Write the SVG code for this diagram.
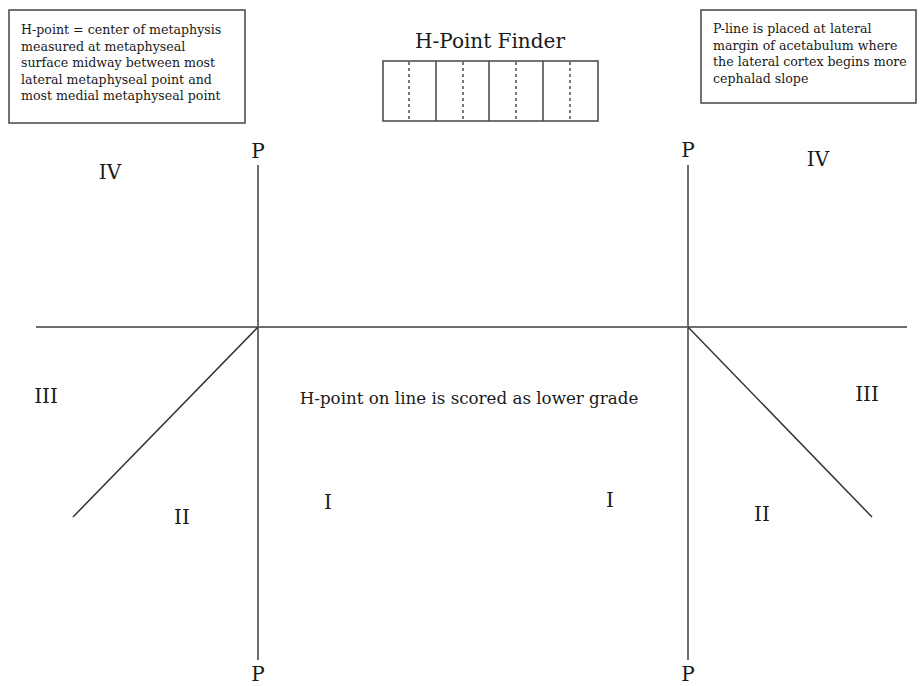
<svg xmlns="http://www.w3.org/2000/svg" width="924" height="686" viewBox="0 0 924 686">
<style>
text{font-family:"DejaVu Serif","Liberation Serif",serif;fill:#1a1a1a}
.note{font-size:12.6px}
.lbl{font-size:20px;text-anchor:middle}
.box{fill:#fff;stroke:#444;stroke-width:1.5}
.axis{stroke:#6e6e6e;stroke-width:2;fill:none}
.diag{stroke:#333;stroke-width:1.5;fill:none}
.dash{stroke:#333;stroke-width:1.3;stroke-dasharray:3,3}
.solid{stroke:#444;stroke-width:1.5}
</style>
<rect width="924" height="686" fill="#fff"/>
<g id="note-hpoint">
<rect class="box" x="9" y="10" width="236" height="113"/>
<text class="note" x="21" y="34">H-point = center of metaphysis</text>
<text class="note" x="21" y="50.5">measured at metaphyseal</text>
<text class="note" x="21" y="67">surface midway between most</text>
<text class="note" x="21" y="83.5">lateral metaphyseal point and</text>
<text class="note" x="21" y="100">most medial metaphyseal point</text>
</g>
<g id="note-pline">
<rect class="box" x="701" y="10" width="215" height="93"/>
<text class="note" x="713" y="33">P-line is placed at lateral</text>
<text class="note" x="713" y="49.5">margin of acetabulum where</text>
<text class="note" x="713" y="66">the lateral cortex begins more</text>
<text class="note" x="713" y="82.5">cephalad slope</text>
</g>
<g id="finder">
<text x="490" y="48" style="font-size:20px;text-anchor:middle">H-Point Finder</text>
<rect class="box" x="383" y="61" width="215" height="60"/>
<line class="solid" x1="436" y1="61" x2="436" y2="121"/>
<line class="solid" x1="489" y1="61" x2="489" y2="121"/>
<line class="solid" x1="543" y1="61" x2="543" y2="121"/>
<line class="dash" x1="409" y1="62" x2="409" y2="120"/>
<line class="dash" x1="463" y1="62" x2="463" y2="120"/>
<line class="dash" x1="516" y1="62" x2="516" y2="120"/>
<line class="dash" x1="570" y1="62" x2="570" y2="120"/>
</g>
<g id="connectors">
<line class="axis" x1="36" y1="327" x2="907" y2="327"/>
<line class="axis" x1="258" y1="165" x2="258" y2="660"/>
<line class="axis" x1="688" y1="165" x2="688" y2="660"/>
<line class="diag" x1="258" y1="327" x2="73" y2="517"/>
<line class="diag" x1="688" y1="327" x2="872" y2="517"/>
</g>
<g id="labels">
<text class="lbl" x="258" y="158">P</text>
<text class="lbl" x="688" y="157">P</text>
<text class="lbl" x="258" y="681">P</text>
<text class="lbl" x="688" y="681">P</text>
<text class="lbl" x="110" y="179">IV</text>
<text class="lbl" x="818" y="166">IV</text>
<text class="lbl" x="46" y="403">III</text>
<text class="lbl" x="867" y="401">III</text>
<text class="lbl" x="182" y="524">II</text>
<text class="lbl" x="762" y="521">II</text>
<text class="lbl" x="328" y="509">I</text>
<text class="lbl" x="610" y="507">I</text>
<text x="469" y="404" style="font-size:16.7px;text-anchor:middle">H-point on line is scored as lower grade</text>
</g>
</svg>
